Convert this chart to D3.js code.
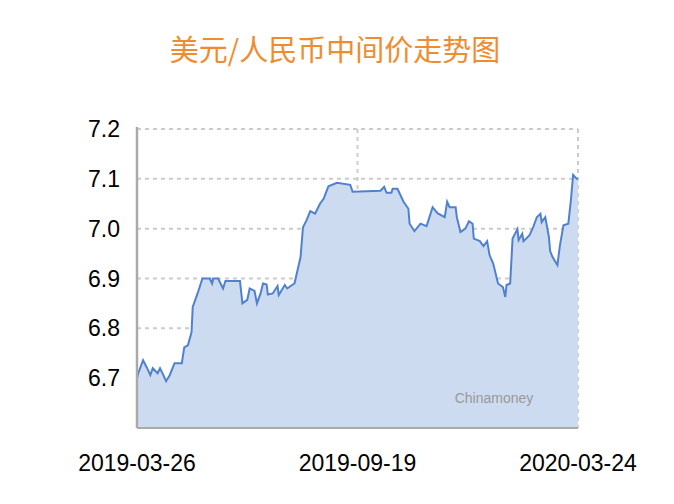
<!DOCTYPE html><html><head><meta charset="utf-8"><script src="https://cdn.jsdelivr.net/npm/d3@7"></script>
<style>body{margin:0;background:#fff}</style></head><body><svg id="c" width="674" height="504"></svg>
<script>
const days=[0,1,5,8,11,13,17,19,21,24,27,31,37,39,42,45,46,50,54,60,62,63,67,71,73,85,87,91,93,97,99,102,104,107,108,112,116,117,122,124,128,130,135,137,140,143,147,151,154,158,165,176,178,201,204,206,210,211,215,220,224,225,229,234,239,244,248,254,256,258,263,264,267,271,274,277,278,283,286,289,291,294,298,302,304,305,308,310,314,315,318,319,324,327,330,333,334,337,340,341,343,347,349,352,356,358,360,363,364];
const values=[6.70,6.71,6.736,6.722,6.706,6.72,6.71,6.72,6.71,6.694,6.706,6.73,6.73,6.762,6.766,6.792,6.843,6.87,6.90,6.90,6.89,6.90,6.90,6.88,6.895,6.895,6.85,6.857,6.88,6.875,6.85,6.87,6.89,6.888,6.868,6.87,6.885,6.867,6.887,6.88,6.887,6.89,6.943,7.003,7.017,7.035,7.03,7.05,7.06,7.085,7.092,7.088,7.074,7.076,7.084,7.072,7.072,7.08,7.08,7.054,7.04,7.01,6.995,7.01,7.005,7.043,7.031,7.023,7.054,7.043,7.043,7.023,6.993,7.0,7.015,7.01,6.98,6.975,6.965,6.975,6.947,6.93,6.89,6.883,6.863,6.887,6.89,6.98,6.999,6.977,6.99,6.975,6.987,7.003,7.023,7.03,7.013,7.023,6.983,6.955,6.943,6.927,6.965,7.007,7.01,7.054,7.108,7.10,7.10];
const yTicks=[6.7,6.8,6.9,7.0,7.1,7.2];
const xTicks=[[0,"2019-03-26"],[182,"2019-09-19"],[364,"2020-03-24"]];
const svg=d3.select("#c");
const x=d3.scaleLinear().domain([0,364]).range([137,578]);
const y=d3.scaleLinear().domain([6.6,7.2]).range([428,129]);
svg.append("text").attr("x",335).attr("y",61).attr("text-anchor","middle").attr("fill","#f08c30").attr("font-size",29).attr("font-family","Noto Sans CJK SC").text("美元/人民币中间价走势图");
const g=svg.append("g");
yTicks.forEach(t=>g.append("line").attr("x1",137).attr("x2",578).attr("y1",y(t)).attr("y2",y(t)).attr("stroke","#ccc").attr("stroke-width",2).attr("stroke-dasharray","4,4"));
xTicks.slice(1).forEach(t=>g.append("line").attr("x1",x(t[0])).attr("x2",x(t[0])).attr("y1",129).attr("y2",428).attr("stroke","#ccc").attr("stroke-width",2).attr("stroke-dasharray","4,4"));
const pts=days.map((d,i)=>[d,values[i]]);
svg.append("path").datum(pts).attr("d",d3.area().x(d=>x(d[0])).y0(428).y1(d=>y(d[1]))).attr("fill","#cddbf1");
svg.append("path").datum(pts).attr("d",d3.line().x(d=>x(d[0])).y(d=>y(d[1]))).attr("fill","none").attr("stroke","#4f81d0").attr("stroke-width",2);
svg.append("line").attr("x1",137).attr("x2",137).attr("y1",127).attr("y2",428).attr("stroke","#aaa").attr("stroke-width",2.5);
svg.append("line").attr("x1",137).attr("x2",578).attr("y1",428).attr("y2",428).attr("stroke","#aaa").attr("stroke-width",2);
yTicks.forEach(t=>svg.append("text").attr("x",120).attr("y",y(t)+8).attr("text-anchor","end").attr("font-size",23).attr("font-family","Liberation Sans").attr("fill","#000").text(t.toFixed(1)));
xTicks.forEach(t=>svg.append("text").attr("x",x(t[0])).attr("y",471).attr("text-anchor","middle").attr("font-size",23).attr("font-family","Liberation Sans").attr("fill","#000").text(t[1]));
svg.append("text").attr("x",494).attr("y",403).attr("text-anchor","middle").attr("font-size",14).attr("font-family","Liberation Sans").attr("fill","#999").text("Chinamoney");
</script></body></html>
